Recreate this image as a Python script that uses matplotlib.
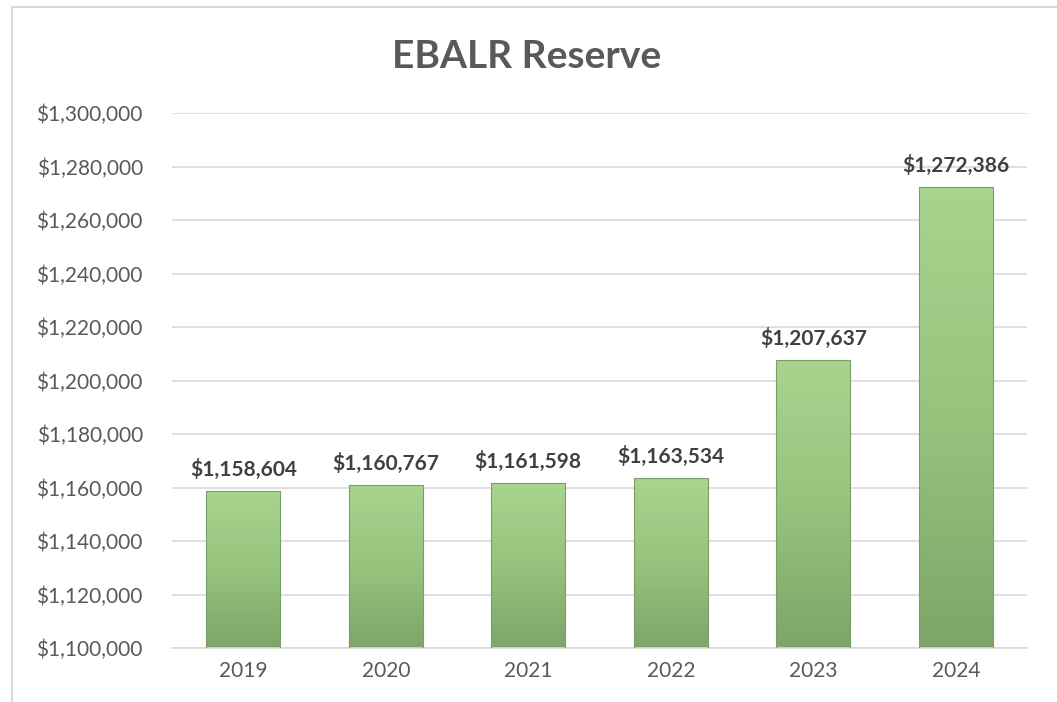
import numpy as np
import matplotlib
matplotlib.use("Agg")
import matplotlib.pyplot as plt
from matplotlib.patches import Rectangle
from matplotlib.colors import LinearSegmentedColormap
from matplotlib.ticker import FuncFormatter

years = ["2019", "2020", "2021", "2022", "2023", "2024"]
reserve = [1158604, 1160767, 1161598, 1163534, 1207637, 1272386]
y_ticks = list(range(1100000, 1300001, 20000))

plt.rcParams['font.family'] = ['Lato', 'DejaVu Sans']

fig = plt.figure(figsize=(10.57, 7.02), dpi=100)
ax = fig.add_axes([0.1627, 0.0769, 0.809, 0.762])

# outer chart frame (cropped on right/bottom like the original)
fig.patches.append(Rectangle((12 / 1057, -0.1), 1.2, 1 - 7 / 702 + 0.1,
                             transform=fig.transFigure, fill=False,
                             edgecolor="#d9d9d9", linewidth=1.5))

x = np.arange(len(years))
bars = ax.bar(x, reserve, width=0.52, bottom=0, color="none",
              edgecolor="#7a9e66", linewidth=0.8, zorder=3)

# vertical green gradient inside each bar
cmap = LinearSegmentedColormap.from_list("grn", ["#7da56a", "#96c47d", "#a8d48e"])
grad = np.linspace(0, 1, 256).reshape(-1, 1)
for b in bars:
    x0, w, h = b.get_x(), b.get_width(), b.get_height()
    im = ax.imshow(grad, cmap=cmap, aspect="auto", origin="lower",
                   extent=[x0, x0 + w, 1100000, h], zorder=2)
    im.set_clip_path(b)

for xi, v in zip(x, reserve):
    ax.annotate(f"${v:,.0f}", (xi, v), xytext=(0, 8), textcoords="offset points",
                ha="center", va="bottom", fontsize=15, fontweight="bold",
                color="#404040", zorder=4)

ax.set_xlim(-0.5, len(years) - 0.5)
ax.set_ylim(1100000, 1300000)
ax.set_yticks(y_ticks)
ax.yaxis.set_major_formatter(FuncFormatter(lambda v, p: f"${v:,.0f}"))
ax.set_xticks(x)
ax.set_xticklabels(years)
ax.tick_params(axis="both", length=0, labelsize=15, colors="#595959")
ax.tick_params(axis="y", pad=21)
ax.tick_params(axis="x", pad=9)
ax.grid(axis="y", color="#d9d9d9", linewidth=1.2, zorder=0)
ax.set_axisbelow(True)
for s in ["top", "right", "left"]:
    ax.spines[s].set_visible(False)
ax.spines["bottom"].set_color("#d9d9d9")
ax.spines["bottom"].set_linewidth(1.2)

fig.text(0.4986, 1 - 57 / 702, "EBALR Reserve", ha="center", va="center",
         fontsize=28, fontweight="bold", color="#595959")

fig.savefig("out.png", dpi=100)
